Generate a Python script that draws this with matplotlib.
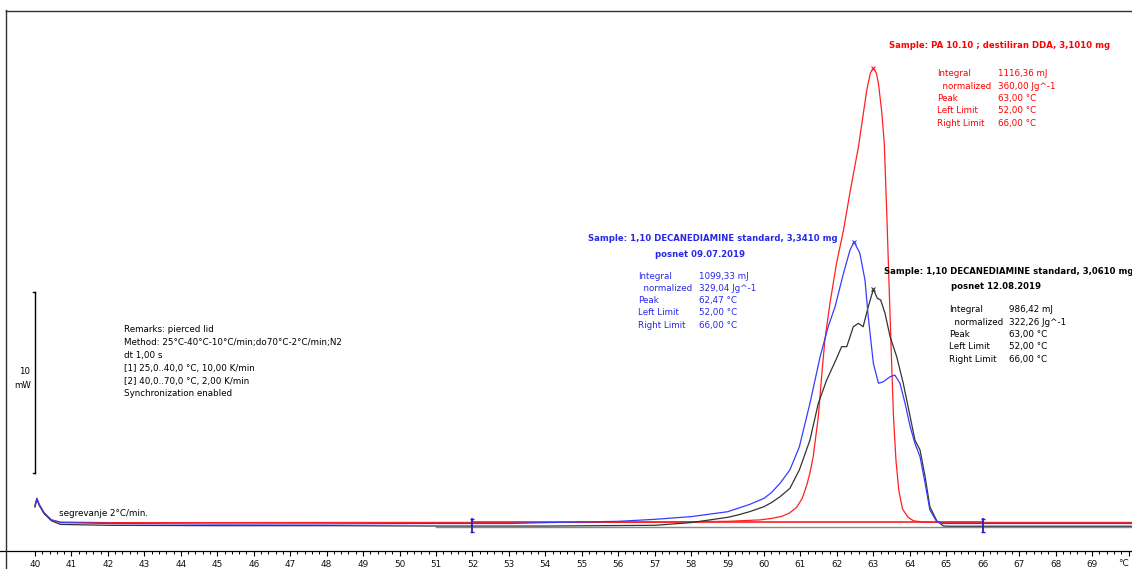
import matplotlib.pyplot as plt
from matplotlib.lines import Line2D

plt.rcParams['font.family'] = ['DejaVu Sans']

# DSC curves, heat flow in mW vs. temperature in °C
t_red = [40.0, 40.05, 40.12, 40.25, 40.45, 40.7, 42, 45, 50, 55, 57, 58, 59, 59.9, 60.2, 60.5,
         60.7, 60.9, 61.05, 61.17, 61.26, 61.35, 61.49, 61.58, 61.67, 61.81, 61.99, 62.18, 62.36,
         62.59, 62.82, 62.92, 63.0, 63.08, 63.14, 63.23, 63.30, 63.37, 63.46, 63.55, 63.62,
         63.70, 63.80, 63.95, 64.10, 64.4, 66, 68, 70.1]
hf_red = [0.9, 1.35, 1.0, 0.55, 0.2, 0.08, 0.05, 0.05, 0.06, 0.06, 0.07, 0.1, 0.12, 0.2, 0.28, 0.4,
          0.58, 0.9, 1.4, 2.1, 2.8, 3.69, 5.9, 8.11, 10.14, 12.17, 14.38, 16.2, 18.3,
          20.8, 23.95, 24.9, 25.15, 24.9, 24.3, 22.75, 21.0, 17.0, 11.4, 6.0, 3.5,
          1.8, 0.8, 0.35, 0.15, 0.07, 0.06, 0.06, 0.06]

t_blue = [40.0, 40.05, 40.12, 40.25, 40.45, 40.7, 42, 45, 48, 51, 53, 54, 56, 57, 58, 59,
          59.3, 59.6, 59.8, 60.0, 60.2, 60.44, 60.71, 60.97, 61.26, 61.54, 61.76, 61.95, 62.18,
          62.36, 62.47, 62.63, 62.77, 62.86, 63.0, 63.14, 63.27, 63.46, 63.59, 63.73, 63.87,
          64.01, 64.14, 64.28, 64.42, 64.55, 64.74, 64.9, 66, 68, 70.1]
hf_blue = [1.0, 1.4, 1.05, 0.6, 0.2, 0.05, 0.0, -0.03, -0.02, 0.0, 0.0, 0.05, 0.12, 0.23, 0.38, 0.65,
           0.85, 1.05, 1.22, 1.39, 1.7, 2.22, 2.96, 4.24, 6.64, 9.22, 10.87, 11.98, 13.82,
           15.11, 15.57, 14.93, 13.45, 11.43, 8.85, 7.75, 7.83, 8.11, 8.20, 7.75, 6.64,
           5.35, 4.43, 3.69, 2.22, 0.75, 0.10, 0.0, 0.0, 0.0, 0.0]

t_black = [40.0, 40.05, 40.12, 40.25, 40.45, 40.7, 42, 45, 48, 51, 54, 57, 58, 59, 59.3, 59.6,
           60.0, 60.2, 60.44, 60.71, 60.97, 61.26, 61.49, 61.72, 61.95, 62.13, 62.27, 62.45,
           62.59, 62.72, 62.86, 63.0, 63.11, 63.20, 63.32, 63.46, 63.64, 63.82, 64.01, 64.14,
           64.28, 64.42, 64.55, 64.74, 64.92, 65.1, 66, 68, 70.1]
hf_black = [0.95, 1.35, 1.0, 0.55, 0.15, -0.05, -0.1, -0.12, -0.12, -0.14, -0.14, -0.1, 0.05, 0.34,
            0.48, 0.65, 0.93, 1.15, 1.48, 1.94, 2.96, 4.61, 6.64, 7.93, 8.94, 9.77, 9.77, 10.87,
            11.06, 10.87, 11.98, 12.94, 12.44, 12.35, 11.61, 10.32, 9.22, 7.75, 5.90, 4.61,
            4.06, 2.59, 0.93, 0.15, -0.14, -0.15, -0.15, -0.15, -0.15]

# peak positions and heights
peak_t = [63.00, 62.47, 63.00]
peak_hf = [25.15, 15.57, 12.94]

# integration limits
limits = [52.0, 66.0]

c_red = '#ff2020'
c_blue = '#3a3aff'
c_black = '#333333'

fig = plt.figure(figsize=(11.32, 5.69), dpi=100)
W, H = 1132, 569
ax = fig.add_axes([0, 18 / H, 1, 551 / H])
ax.set_xlim(39.0398, 70.0959)
ax.set_ylim(-1.519, 28.923)

ax.plot(t_red, hf_red, color=c_red, lw=0.9, zorder=3)
ax.plot(t_black, hf_black, color=c_black, lw=0.9, zorder=4)
ax.plot(t_blue, hf_blue, color=c_blue, lw=0.9, zorder=5)

# integration baselines
ax.plot(limits, [0.06, 0.06], color=c_red, lw=1.2, zorder=3)
ax.plot([51.0, 70.1], [-0.17, -0.17], color='#888888', lw=1.0, zorder=2)

# peak markers
for t, h, c in zip(peak_t, peak_hf, [c_red, c_blue, c_black]):
    ax.plot(t, h, marker='x', ms=3.5, mew=0.8, color=c, zorder=6)

# limit markers
for t in limits:
    ax.plot([t, t], [0.25, -0.47], color='#2020c0', lw=1.3, zorder=7)
    ax.plot([t, t], [0.25, -0.47], ls='none', marker='_', ms=3, mew=1, color='#2020c0', zorder=7)

# 10 mW scale bar
ax.plot([40.0, 40.0], [2.79, 12.79], color='black', lw=1.0)
ax.plot([39.94, 40.0], [12.79, 12.79], color='black', lw=1.0)
ax.plot([39.94, 40.0], [2.79, 2.79], color='black', lw=1.0)

# temperature ruler
for side in ['top', 'left', 'right']:
    ax.spines[side].set_visible(False)
ax.spines['bottom'].set_linewidth(0.9)
ax.set_yticks([])
ax.set_xticks(range(40, 71))
ax.set_xticklabels([str(v) for v in range(40, 70)] + [''])
ax.set_xticks([40 + 0.2 * i for i in range(151)], minor=True)
ax.tick_params(axis='x', which='major', direction='out', length=3.5, width=0.8,
               pad=3.0, labelsize=6.4, labelcolor='#111111')
ax.tick_params(axis='x', which='minor', direction='out', length=2.5, width=0.7)
ax.patch.set_alpha(0)


def fx(x):
    return x / W


def fy(y):
    return 1 - y / H


fig.text(fx(1129), fy(563), '°C', fontsize=6.4, ha='right', va='center', color='#111111')

fig.text(fx(30), fy(372), '10', fontsize=6.2, ha='right', va='center')
fig.text(fx(31), fy(385), 'mW', fontsize=6.2, ha='right', va='center')

# window frame
fig.add_artist(Line2D([fx(6), fx(6)], [fy(10), 0], color='#303030', lw=1.0))
fig.add_artist(Line2D([fx(6), 1], [fy(11), fy(11)], color='#303030', lw=1.0))

fs = 6.3
fsb = 6.1

# method remarks
remarks = ['Remarks: pierced lid',
           'Method: 25°C-40°C-10°C/min;do70°C-2°C/min;N2',
           'dt 1,00 s',
           '[1] 25,0..40,0 °C, 10,00 K/min',
           '[2] 40,0..70,0 °C, 2,00 K/min',
           'Synchronization enabled']
for i, s in enumerate(remarks):
    fig.text(fx(124), fy(330 + 12.8 * i), s, fontsize=fs, va='center', color='black')

fig.text(fx(59), fy(513), 'segrevanje 2°C/min.', fontsize=fs, va='center', color='black')

row_names = ['Integral', '  normalized', 'Peak', 'Left Limit', 'Right Limit']


def result_block(title, subtitle, values, color, tx, ty, sx, lx, vx, ly):
    fig.text(fx(tx), fy(ty), title, fontsize=fsb, fontweight='bold', va='center', color=color)
    if subtitle:
        fig.text(fx(sx), fy(ty + 15.7), subtitle, fontsize=fsb, fontweight='bold',
                 va='center', color=color)
    for i, (n, v) in enumerate(zip(row_names, values)):
        fig.text(fx(lx), fy(ly + 12.3 * i), n, fontsize=fs, va='center', color=color)
        fig.text(fx(vx), fy(ly + 12.3 * i), v, fontsize=fs, va='center', color=color)


result_block('Sample: PA 10.10 ; destiliran DDA, 3,1010 mg', None,
             ['1116,36 mJ', '360,00 Jg^-1', '63,00 °C', '52,00 °C', '66,00 °C'],
             '#ff0000', 889, 46, 0, 937, 998, 74)
result_block('Sample: 1,10 DECANEDIAMINE standard, 3,3410 mg', 'posnet 09.07.2019',
             ['1099,33 mJ', '329,04 Jg^-1', '62,47 °C', '52,00 °C', '66,00 °C'],
             '#2828e8', 588, 238.5, 655, 638, 699, 276)
result_block('Sample: 1,10 DECANEDIAMINE standard, 3,0610 mg', 'posnet 12.08.2019',
             ['986,42 mJ', '322,26 Jg^-1', '63,00 °C', '52,00 °C', '66,00 °C'],
             'black', 884, 271, 951, 949, 1009, 310)

fig.savefig('out.png', dpi=100)
